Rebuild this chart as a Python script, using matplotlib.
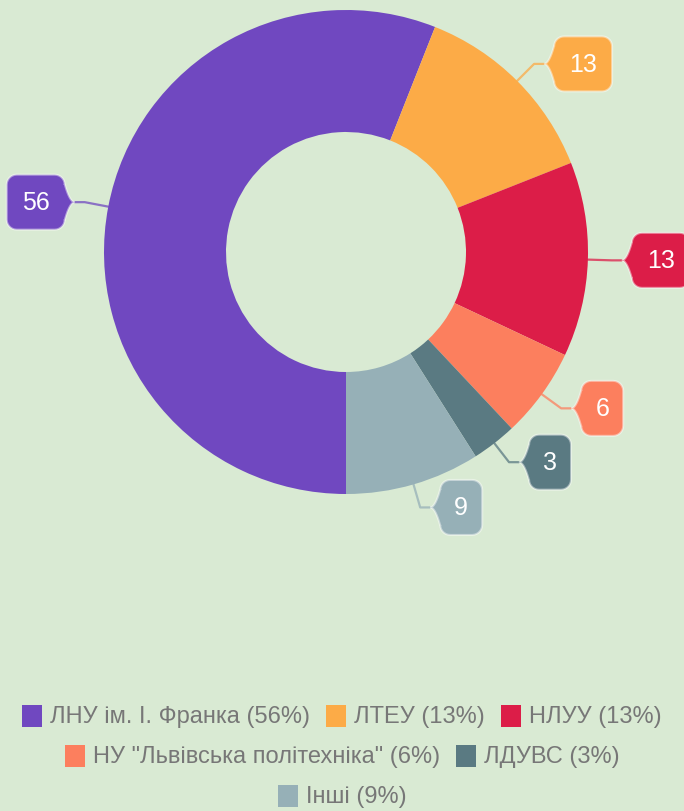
import numpy as np
import matplotlib
matplotlib.use("Agg")
import matplotlib.pyplot as plt
from matplotlib.patches import Polygon, Rectangle

# data
names = ['ЛНУ ім. І. Франка', 'ЛТЕУ', 'НЛУУ', 'НУ "Львівська політехніка"', 'ЛДУВС', 'Інші']
values = [56, 13, 13, 6, 3, 9]
colors = ['#7048c0', '#fcab47', '#dc1d48', '#fc7f5e', '#5a7a82', '#96b0b7']
legend_rows = [[0, 1, 2], [3, 4], [5]]

W, H = 684, 812
bg = '#d9ead3'
plt.rcParams['font.family'] = ['Liberation Sans', 'DejaVu Sans']

fig = plt.figure(figsize=(W / 100, H / 100), dpi=100, facecolor=bg)
ax = fig.add_axes([0, 0, 1, 1])
ax.set_facecolor(bg)

cx, cy = 346, H - 253     # centre in pixel-ish data coords (y up)
r_out, r_in = 242, 120

wedges, _ = ax.pie(values, colors=colors, startangle=270, counterclock=False,
                   radius=r_out, center=(cx, cy),
                   wedgeprops=dict(width=r_out - r_in, linewidth=0))
ax.set_xlim(0, W)
ax.set_ylim(0, H)
ax.set_aspect('equal')
ax.axis('off')


def callout_shape(bx, by, w, h, rad, side, p=10, b=18):
    # rounded box with a little pointer on the side facing the donut
    x0, x1 = bx - w / 2, bx + w / 2
    y0, y1 = by - h / 2, by + h / 2
    pts = []

    def arc(xc, yc, a0, a1):
        for a in np.linspace(np.radians(a0), np.radians(a1), 8):
            pts.append((xc + rad * np.cos(a), yc + rad * np.sin(a)))

    t = np.linspace(0, 1, 12)
    arc(x1 - rad, y0 + rad, -90, 0)
    if side < 0:
        for tt in t:
            pts.append((x1 + p * tt, by - b * (1 - tt) ** 2))
        for tt in t[::-1]:
            pts.append((x1 + p * tt, by + b * (1 - tt) ** 2))
    arc(x1 - rad, y1 - rad, 0, 90)
    arc(x0 + rad, y1 - rad, 90, 180)
    if side > 0:
        for tt in t:
            pts.append((x0 - p * tt, by + b * (1 - tt) ** 2))
        for tt in t[::-1]:
            pts.append((x0 - p * tt, by - b * (1 - tt) ** 2))
    arc(x0 + rad, y0 + rad, 180, 270)
    return pts


for wdg, v, c in zip(wedges, values, colors):
    th = np.radians((wdg.theta1 + wdg.theta2) / 2)
    ux, uy = np.cos(th), np.sin(th)
    ax_, ay_ = cx + r_out * ux, cy + r_out * uy
    ex, ey = cx + 266 * ux, cy + 266 * uy
    side = 1 if ux > 0 else -1
    tx = ex + side * 10
    bw = 58 if v >= 10 else 42
    bh = 55
    bx = tx + side * (10 + bw / 2)
    ax.plot([ax_, ex, tx], [ay_, ey, ey], color=c, lw=1.6, alpha=0.75,
            solid_capstyle='round', zorder=3)
    pts = callout_shape(bx, ey, bw, bh, 10, side)
    ax.add_patch(Polygon(pts, closed=True, facecolor=c, edgecolor=(1, 1, 1, 0.45),
                         lw=1.5, zorder=4))
    ax.text(bx, ey, str(v), color='white', fontsize=18, ha='center', va='center',
            zorder=5)

# legend, drawn row by row so each row is centred
renderer = fig.canvas.get_renderer()
row_y = [717, 757, 797]
sq, gap, item_gap = 20, 8, 16
for row, yy in zip(legend_rows, row_y):
    labels = ['%s (%d%%)' % (names[i], values[i]) for i in row]
    texts = []
    widths = []
    for lab in labels:
        t = ax.text(0, H - yy, lab, fontsize=17, color='#777777', ha='left', va='center')
        texts.append(t)
        widths.append(t.get_window_extent(renderer).width)
    total = sum(sq + gap + w_ for w_ in widths) + item_gap * (len(row) - 1)
    x = W / 2 - total / 2
    for i, t, w_ in zip(row, texts, widths):
        ax.add_patch(Rectangle((x, H - yy - sq / 2 - 1), sq, sq + 2, facecolor=colors[i],
                               edgecolor='none'))
        t.set_x(x + sq + gap)
        x += sq + gap + w_ + item_gap

fig.savefig('out.png', dpi=100, facecolor=bg)
